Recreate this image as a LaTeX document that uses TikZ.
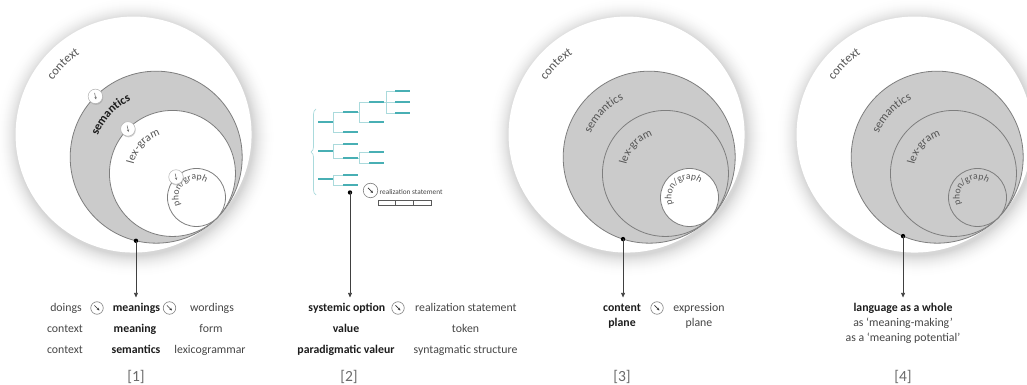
\documentclass[tikz,border=0pt]{standalone}
\usepackage{fontspec}
\setmainfont{Carlito}
\usetikzlibrary{calc,arrows.meta,shadows,decorations.text,decorations.pathreplacing}

\definecolor{ringline}{HTML}{7E7E7E}
\definecolor{ringfill}{HTML}{CBCBCB}
\definecolor{labelgray}{HTML}{555555}
\definecolor{textgray}{HTML}{454545}
\definecolor{boldblack}{HTML}{1C1C1C}
\definecolor{tagray}{HTML}{6A6A6A}
\definecolor{tealbar}{HTML}{48AFB4}
\definecolor{tealline}{HTML}{AADADC}
\definecolor{halogray}{HTML}{D2D2D2}

\newcommand\rowfont{\fontsize{11.8}{14}\selectfont}

\tikzset{
  ring/.style={draw=ringline, line width=0.8pt},
  grayring/.style={ring, fill=ringfill},
  whitering/.style={ring, fill=white},
  reg/.style={anchor=base, inner sep=0pt, font=\rowfont, text=textgray},
  bld/.style={reg, font=\rowfont\bfseries, text=boldblack},
  tag/.style={inner sep=0pt, font=\fontsize{15.5}{18}\selectfont, text=tagray},
  badge/.style={circle, draw=ringline, line width=0.6pt, fill=white,
    minimum size=12.5pt, inner sep=0pt,
    path picture={\draw[line width=0.7pt, black!80, -{Stealth[length=2.5pt,width=2.5pt]}]
      ([shift={(-2.6,2.6)}]path picture bounding box.center) --
      ([shift={(2.4,-2.4)}]path picture bounding box.center);}},
  ringbadge/.style={circle, draw=black!30, line width=0.5pt, fill=white,
    minimum size=14.5pt, inner sep=0pt,
    drop shadow={shadow xshift=0.6pt, shadow yshift=-1.2pt, opacity=0.35},
    path picture={\draw[line width=0.6pt, black!55, -{Stealth[length=2.4pt,width=2.4pt]}]
      ([shift={(-0.8,3.4)}]path picture bounding box.center) --
      ([shift={(0.6,-3)}]path picture bounding box.center);}},
  dotnode/.style={circle, fill=black, inner sep=0pt, minimum size=4.4pt},
  connector/.style={draw=black!75, line width=0.6pt, -{Triangle[length=4.5pt,width=3.8pt]}},
  barline/.style={draw=tealbar, line width=1.8pt},
  treelink/.style={draw=tealline, line width=0.7pt},
}

% nested strata circles, all tangent at one point T
\newcommand\ringstack[4]{% #1 tag, #2 tangent point, #3 lex-gram style, #4 phon/graph style
  \coordinate (T#1) at #2;
  \coordinate (ctx#1) at ($(T#1)+(135:118)$);
  \coordinate (sem#1) at ($(T#1)+(135:86)$);
  \coordinate (lex#1) at ($(T#1)+(135:63)$);
  \coordinate (pho#1) at ($(T#1)+(135:29)$);
  % soft halo: stacked discs fading out to white
  \foreach \k in {22,...,1}{%
    \pgfmathsetmacro\hv{100*(1-\k/23)^2.2}%
    \fill[halogray!\hv!white] ($(ctx#1)+(1.5,-2.5)$) circle[radius=118+\k];
  }
  \fill[white] (ctx#1) circle[radius=118];
  \draw[grayring] (sem#1) circle[radius=86];
  \draw[#3] (lex#1) circle[radius=63];
  \draw[#4] (pho#1) circle[radius=29];
}

% label set along an arc inside a circle
\newcommand\arclabel[6]{% centre, radius, mid angle, half span, format, text
  \pgfmathsetmacro\arcfrom{#3+#4}%
  \pgfmathsetmacro\arcto{#3-#4}%
  \path[decorate, decoration={text along path, text align=center,
      text={|#5|#6}}]
    ($(#1)+(\arcfrom:#2)$) arc[start angle=\arcfrom, end angle=\arcto, radius=#2];
}

\newcommand\ctxfont{\fontsize{12.5}{14}\selectfont\color{labelgray}}
\newcommand\semfont{\fontsize{12}{14}\selectfont\color{labelgray}}
\newcommand\lexfont{\fontsize{11.5}{14}\selectfont\color{labelgray}}
\newcommand\phofont{\fontsize{9.6}{11}\selectfont\color{labelgray}}

\begin{document}
\begin{tikzpicture}[x=1pt, y=1pt]
\useasboundingbox (0,0) rectangle (1027,385);
\clip (0,0) rectangle (1027,385);
\coordinate (arrowline) at (0,87.5);

% ---------- [1] stratification with realization
\ringstack{1}{(217,167)}{whitering}{whitering}
\arclabel{ctx1}{97}{135}{30}{\ctxfont}{context}
\arclabel{sem1}{62}{137}{42}{\fontsize{12}{14}\selectfont\bfseries\color{boldblack}}{semantics}
\arclabel{lex1}{40}{137}{48}{\lexfont}{lex-gram}
\arclabel{pho1}{18}{132}{100}{\phofont}{phon/graph}
\node[ringbadge] (rb1) at ($(sem1)+(135:86)$) {};
\node[ringbadge] (rb2) at ($(lex1)+(135:63)$) {};
\node[ringbadge] (rb3) at ($(pho1)+(135:29)$) {};
\node[dotnode] (dot1) at ($(sem1)+(256.4:86)$) {};
\draw[connector] (dot1.center) -- (dot1.center |- arrowline);

\node[reg] (doings) at (66,73) {doings};
\node[badge] (b1a) at (97,77) {};
\node[bld] (meanings) at (136.5,73) {meanings};
\node[badge] (b1b) at (169.5,77) {};
\node[reg] (wordings) at (212,73) {wordings};
\node[reg] (ctxA) at (65,52) {context};
\node[bld] (meaning) at (135,52) {meaning};
\node[reg] (form) at (211,52) {form};
\node[reg] (ctxB) at (65,31) {context};
\node[bld] (semantics) at (136,31) {semantics};
\node[reg] (lexgram) at (210,31) {lexicogrammar};
\node[tag] (tag1) at (136,8) {[1]};

% ---------- [2] system network and realization statement
\draw[treelink, decorate, decoration={brace, amplitude=5pt}] (316,190) -- (316,276);
\foreach \bx/\by in {318/263, 318/234, 318/206,
                     343/273, 343/253, 343/241, 343/227, 343/210, 343/200,
                     369/283, 369/263, 369/233, 369/222,
                     395/294, 395/283, 395/272}
  \draw[barline] (\bx,\by) -- ++(15,0);
\draw[treelink] (333,273) -- (333,253) (333,273) -- (343,273) (333,253) -- (343,253);
\draw[treelink] (359,283) -- (359,263) (358,273) -- (359,273) (359,283) -- (369,283) (359,263) -- (369,263);
\draw[treelink] (386,294) -- (386,272) (384,283) -- (395,283) (386,294) -- (395,294) (386,272) -- (395,272);
\draw[treelink] (333,241) -- (333,227) (333,241) -- (343,241) (333,227) -- (343,227);
\draw[treelink] (359,233) -- (359,222) (358,227) -- (359,227) (359,233) -- (369,233) (359,222) -- (369,222);
\draw[treelink] (333,210) -- (333,200) (333,210) -- (343,210) (333,200) -- (343,200);

\node[badge, minimum size=14.5pt] (rsbadge) at (370.5,194.5) {};
\node[anchor=base west, inner sep=0pt, font=\fontsize{7.3}{9}\selectfont, text=textgray]
  (rstext) at (379.5,190) {realization statement};
\draw[draw=black!65, line width=0.6pt] (378,180) rectangle (431,185)
  (395,180) -- (395,185) (413,180) -- (413,185);
\node[dotnode] (dot2) at (350,192.5) {};
\draw[connector] (dot2.center) -- (dot2.center |- arrowline);

\node[bld, anchor=base east] (sysopt) at (385.5,73) {systemic option};
\node[badge] (b2) at (398,77) {};
\node[reg, anchor=base west] (realst) at (415,73) {realization statement};
\node[bld] (value) at (346,52) {value};
\node[reg] (token) at (465.5,52) {token};
\node[bld] (valeur) at (346,31) {paradigmatic valeur};
\node[reg] (syntag) at (465.5,31) {syntagmatic structure};
\node[tag] (tag2) at (349,8) {[2]};

% ---------- [3] content and expression planes
\ringstack{3}{(710,167)}{grayring}{whitering}
\arclabel{ctx3}{97}{135}{30}{\ctxfont}{context}
\arclabel{sem3}{63}{136}{42}{\semfont}{semantics}
\arclabel{lex3}{40}{138}{48}{\lexfont}{lex-gram}
\arclabel{pho3}{18}{128}{100}{\phofont}{phon/graph}
\node[dotnode] (dot3) at ($(sem3)+(252.3:86)$) {};
\draw[connector] (dot3.center) -- (dot3.center |- arrowline);

\node[bld] (content) at (622,73) {content};
\node[bld] (cplane) at (622,58) {plane};
\node[badge] (b3) at (657,77) {};
\node[reg] (expression) at (699,73) {expression};
\node[reg] (eplane) at (699,58) {plane};
\node[tag] (tag3) at (622,8) {[3]};

% ---------- [4] language as a whole
\ringstack{4}{(998,167)}{grayring}{grayring}
\arclabel{ctx4}{97}{135}{30}{\ctxfont}{context}
\arclabel{sem4}{63}{136}{42}{\semfont}{semantics}
\arclabel{lex4}{40}{138}{48}{\lexfont}{lex-gram}
\arclabel{pho4}{18}{130}{100}{\phofont}{phon/graph}
\node[dotnode] (dot4) at ($(sem4)+(246.6:86)$) {};
\draw[connector] (dot4.center) -- (dot4.center |- arrowline);

\node[bld] (whole) at (903,73) {language as a whole};
\node[reg] (making) at (903,58) {as ‘meaning-making’};
\node[reg] (potential) at (903,43) {as a ‘meaning potential’};
\node[tag] (tag4) at (903,8) {[4]};
\end{tikzpicture}
\end{document}
